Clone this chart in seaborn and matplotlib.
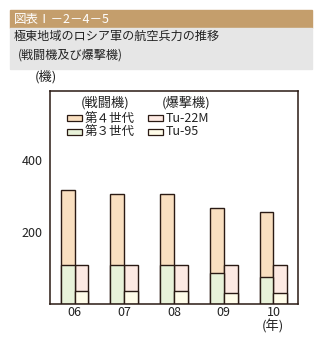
import matplotlib
matplotlib.use("Agg")
import matplotlib.pyplot as plt
from matplotlib.patches import Rectangle
import seaborn as sns
import pandas as pd

# ---- data ----
years = ["06", "07", "08", "09", "10"]
gen4 = [208, 197, 197, 178, 178]      # 第４世代
gen3 = [108, 108, 108, 88, 77]        # 第３世代
tu22m = [70, 70, 70, 78, 78]          # Tu-22M
tu95 = [38, 38, 38, 30, 30]           # Tu-95
yticks = [200, 400]

sns.set_theme(style="white")
plt.rcParams["font.family"] = ["Noto Sans CJK JP", "DejaVu Sans"]

W, H = 322, 342
fig = plt.figure(figsize=(W / 100, H / 100), dpi=100)

def fx(x):
    return x / W

def fy(y):
    return 1 - y / H

txt = "#222222"
# header bands
fig.patches.append(Rectangle((fx(10), fy(28)), fx(312) - fx(10), fy(10) - fy(28),
                             transform=fig.transFigure, color="#C49E6C", zorder=0))
fig.patches.append(Rectangle((fx(10), fy(69)), fx(312) - fx(10), fy(28) - fy(69),
                             transform=fig.transFigure, color="#E6E6E6", zorder=0))
fig.text(fx(14), fy(19.5), "図表Ⅰ－2－4－5", color="white", fontsize=9, va="center", ha="left")
fig.text(fx(14), fy(36), "極東地域のロシア軍の航空兵力の推移", color=txt, fontsize=8.7, va="center", ha="left")
fig.text(fx(18), fy(55), "(戦闘機及び爆撃機)", color=txt, fontsize=8.7, va="center", ha="left")

ax = fig.add_axes([fx(49.7), fy(304.3), fx(298.3) - fx(49.7), fy(90.7) - fy(304.3)])

tot = pd.DataFrame({
    "year": years * 2,
    "type": ["fighter"] * 5 + ["bomber"] * 5,
    "value": [a + b for a, b in zip(gen4, gen3)] + [a + b for a, b in zip(tu22m, tu95)],
})
bot = pd.DataFrame({
    "year": years * 2,
    "type": ["fighter"] * 5 + ["bomber"] * 5,
    "value": gen3 + tu95,
})

c4, c3, c22, c95 = "#F9DFC0", "#E8F2D9", "#FDEAE3", "#FFFCE9"
edge = "#2A1A14"
kw = dict(x="year", y="value", hue="type", hue_order=["fighter", "bomber"], width=0.56,
          edgecolor=edge, linewidth=1.0, saturation=1, legend=False, ax=ax, errorbar=None)
sns.barplot(data=tot, palette={"fighter": c4, "bomber": c22}, **kw)
sns.barplot(data=bot, palette={"fighter": c3, "bomber": c95}, **kw)

ax.set_xlim(-0.5, 4.5)
ax.set_ylim(0, 592)
ax.set_yticks(yticks)
ax.set_yticklabels([str(v) for v in yticks], fontsize=9, color=txt)
ax.set_xticks(range(len(years)))
ax.set_xticklabels(years, fontsize=9, color=txt)
ax.set_xlabel("")
ax.set_ylabel("")
ax.tick_params(axis="y", length=0, pad=5)
ax.tick_params(axis="x", length=0, pad=1.5)
for s in ax.spines.values():
    s.set_visible(True)
    s.set_color(edge)
    s.set_linewidth(1.1)

fig.text(fx(46), fy(77), "(機)", fontsize=9.5, ha="center", va="center", color=txt)
fig.text(fx(272.5), fy(326.5), "(年)", fontsize=9.5, ha="center", va="center", color=txt)

# legend
fig.text(fx(105), fy(103), "(戦闘機)", fontsize=9.5, ha="center", va="center", color=txt)
fig.text(fx(186), fy(103), "(爆撃機)", fontsize=9.5, ha="center", va="center", color=txt)
items = [(66.7, 118.3, c4, "第４世代"), (66.7, 131.5, c3, "第３世代"),
         (147.7, 118.3, c22, "Tu-22M"), (147.7, 131.5, c95, "Tu-95")]
for x, y, c, lab in items:
    fig.patches.append(Rectangle((fx(x), fy(y + 3)), fx(15), fy(0) - fy(6),
                                 transform=fig.transFigure, facecolor=c, edgecolor=edge, linewidth=0.9))
    fig.text(fx(x + 18), fy(y), lab, fontsize=9, ha="left", va="center", color=txt)

fig.savefig("out.png", dpi=100)
